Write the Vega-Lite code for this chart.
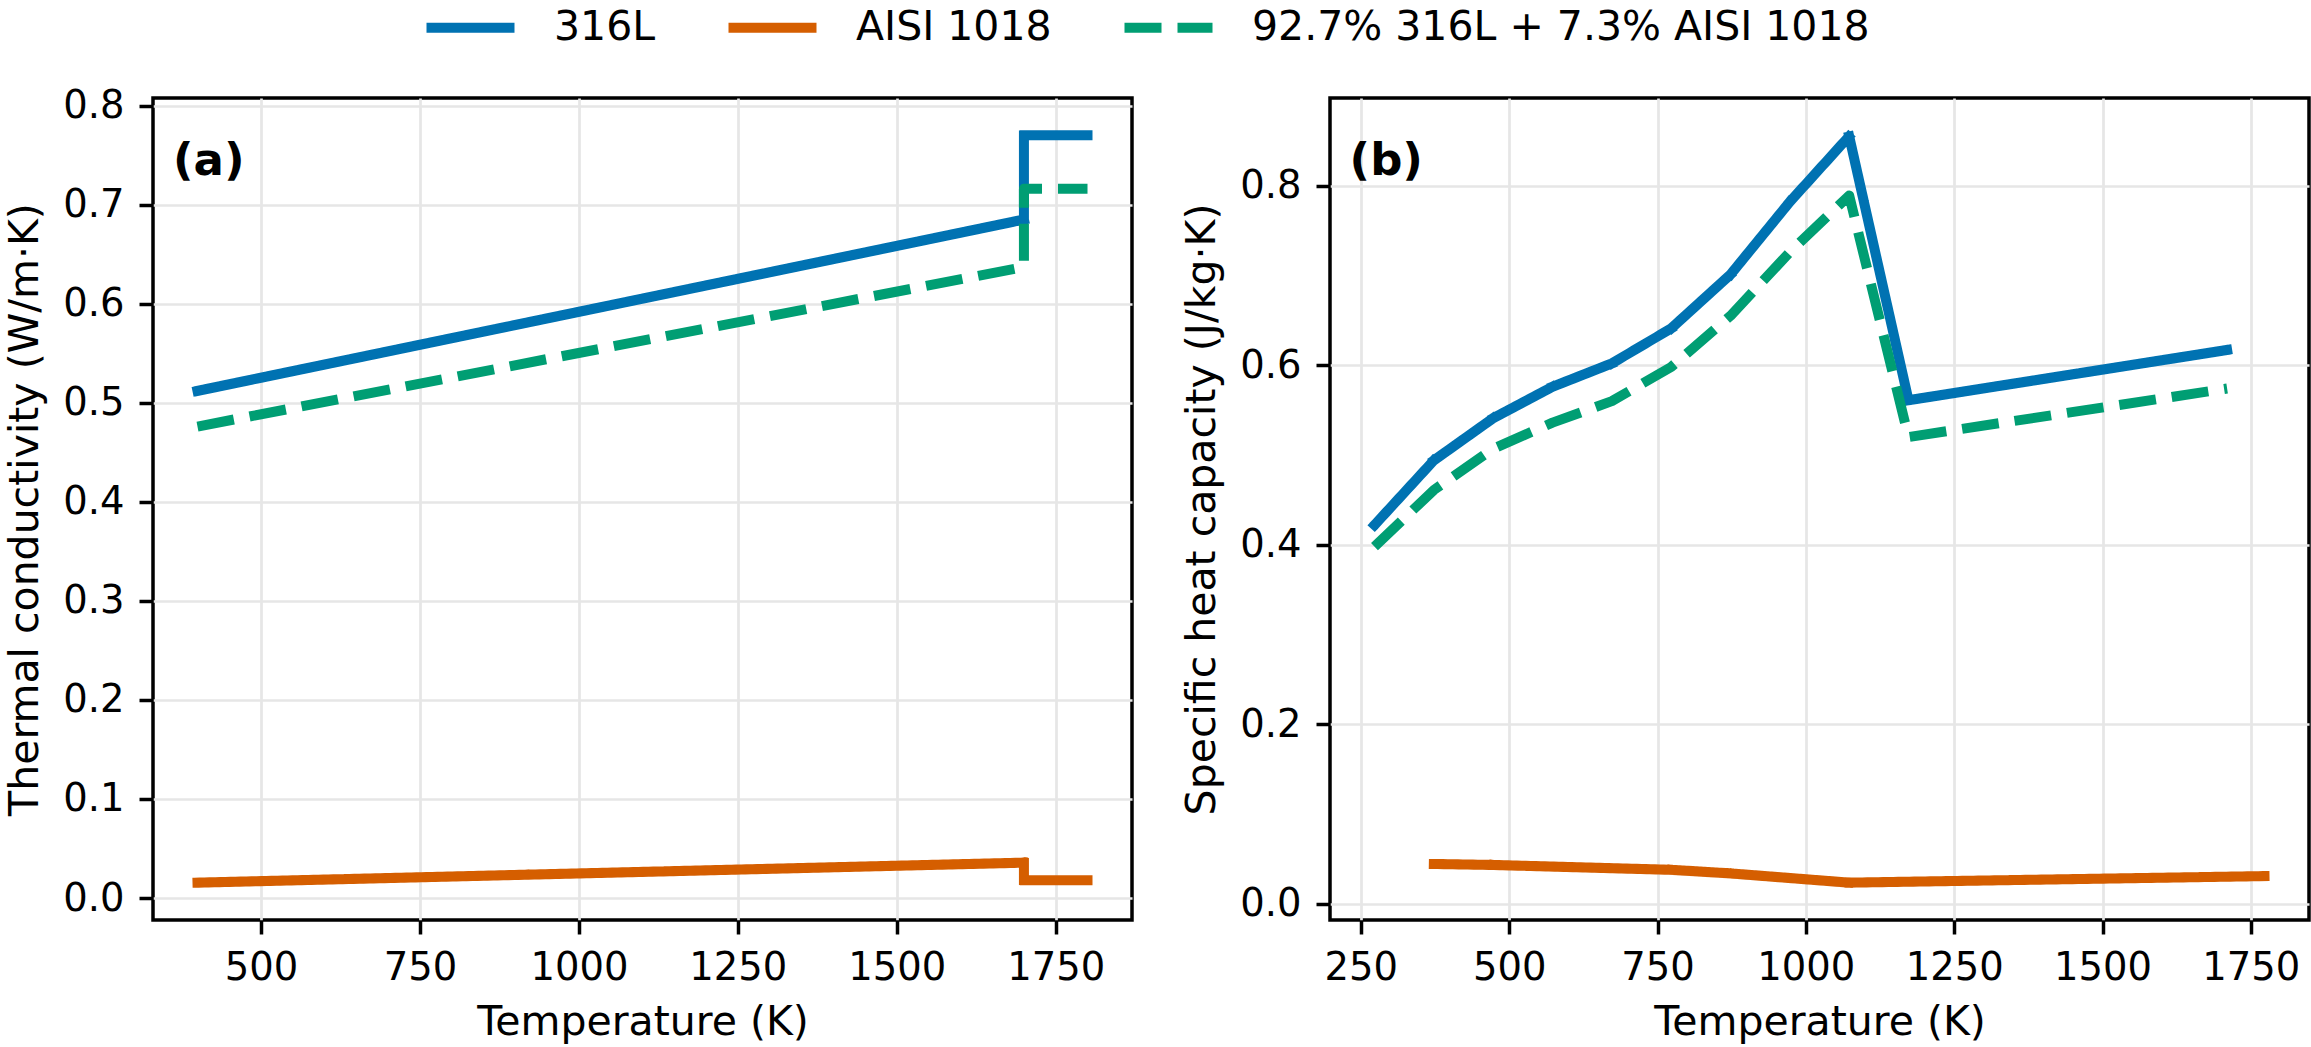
{
  "$schema": "https://vega.github.io/schema/vega-lite/v6.json",
  "padding": {"left": 3, "top": 0, "right": 0, "bottom": 0},
  "background": "white",
  "datasets": {
    "conductivity": [
      {"material": "316L", "T": 400, "k": 0.512, "i": 0},
      {"material": "316L", "T": 1700, "k": 0.685, "i": 1},
      {"material": "316L", "T": 1700, "k": 0.770, "i": 2},
      {"material": "316L", "T": 1800, "k": 0.770, "i": 3},
      {"material": "AISI 1018", "T": 400, "k": 0.0155, "i": 0},
      {"material": "AISI 1018", "T": 1700, "k": 0.0357, "i": 1},
      {"material": "AISI 1018", "T": 1700, "k": 0.018, "i": 2},
      {"material": "AISI 1018", "T": 1800, "k": 0.018, "i": 3},
      {"material": "92.7% 316L + 7.3% AISI 1018", "T": 400, "k": 0.476, "i": 0},
      {"material": "92.7% 316L + 7.3% AISI 1018", "T": 1700, "k": 0.637, "i": 1},
      {"material": "92.7% 316L + 7.3% AISI 1018", "T": 1700, "k": 0.716, "i": 2},
      {"material": "92.7% 316L + 7.3% AISI 1018", "T": 1800, "k": 0.716, "i": 3}
    ],
    "heatCapacity": [
      {"material": "316L", "T": 273, "cp": 0.422, "i": 0},
      {"material": "316L", "T": 373, "cp": 0.494, "i": 1},
      {"material": "316L", "T": 473, "cp": 0.541, "i": 2},
      {"material": "316L", "T": 573, "cp": 0.576, "i": 3},
      {"material": "316L", "T": 673, "cp": 0.602, "i": 4},
      {"material": "316L", "T": 773, "cp": 0.641, "i": 5},
      {"material": "316L", "T": 873, "cp": 0.701, "i": 6},
      {"material": "316L", "T": 973, "cp": 0.782, "i": 7},
      {"material": "316L", "T": 1073, "cp": 0.855, "i": 8},
      {"material": "316L", "T": 1173, "cp": 0.561, "i": 9},
      {"material": "316L", "T": 1710, "cp": 0.617, "i": 10},
      {"material": "AISI 1018", "T": 373, "cp": 0.0445, "i": 0},
      {"material": "AISI 1018", "T": 473, "cp": 0.0434, "i": 1},
      {"material": "AISI 1018", "T": 773, "cp": 0.038, "i": 2},
      {"material": "AISI 1018", "T": 873, "cp": 0.034, "i": 3},
      {"material": "AISI 1018", "T": 1073, "cp": 0.0237, "i": 4},
      {"material": "AISI 1018", "T": 1773, "cp": 0.031, "i": 5},
      {"material": "92.7% 316L + 7.3% AISI 1018", "T": 273, "cp": 0.398, "i": 0},
      {"material": "92.7% 316L + 7.3% AISI 1018", "T": 373, "cp": 0.461, "i": 1},
      {"material": "92.7% 316L + 7.3% AISI 1018", "T": 473, "cp": 0.507, "i": 2},
      {"material": "92.7% 316L + 7.3% AISI 1018", "T": 573, "cp": 0.536, "i": 3},
      {"material": "92.7% 316L + 7.3% AISI 1018", "T": 673, "cp": 0.560, "i": 4},
      {"material": "92.7% 316L + 7.3% AISI 1018", "T": 773, "cp": 0.598, "i": 5},
      {"material": "92.7% 316L + 7.3% AISI 1018", "T": 873, "cp": 0.655, "i": 6},
      {"material": "92.7% 316L + 7.3% AISI 1018", "T": 973, "cp": 0.726, "i": 7},
      {"material": "92.7% 316L + 7.3% AISI 1018", "T": 1073, "cp": 0.789, "i": 8},
      {"material": "92.7% 316L + 7.3% AISI 1018", "T": 1173, "cp": 0.520, "i": 9},
      {"material": "92.7% 316L + 7.3% AISI 1018", "T": 1710, "cp": 0.574, "i": 10}
    ]
  },
  "spacing": 46,
  "hconcat": [
    {
      "width": 979,
      "height": 822,
      "layer": [
        {
          "data": {"name": "conductivity"},
          "transform": [{"filter": "datum.material !== '92.7% 316L + 7.3% AISI 1018'"}],
          "mark": {"type": "line", "strokeWidth": 10, "strokeJoin": "round", "strokeCap": "square", "clip": true},
          "encoding": {
            "x": {"field": "T", "type": "quantitative", "title": "Temperature (K)",
                  "scale": {"domain": [330, 1870], "nice": false, "zero": false},
                  "axis": {"values": [500, 750, 1000, 1250, 1500, 1750], "format": "d"}},
            "y": {"field": "k", "type": "quantitative", "title": "Thermal conductivity (W/m·K)",
                  "scale": {"domain": [-0.0222, 0.8077], "nice": false, "zero": false},
                  "axis": {"values": [0, 0.1, 0.2, 0.3, 0.4, 0.5, 0.6, 0.7, 0.8], "format": ".1f"}},
            "color": {"field": "material", "type": "nominal",
                      "scale": {"domain": ["316L", "AISI 1018", "92.7% 316L + 7.3% AISI 1018"], "range": ["#0072B2", "#D55E00", "#009E73"]},
                      "legend": {"title": null}},
            "strokeDash": {"field": "material", "type": "nominal",
                           "scale": {"domain": ["316L", "AISI 1018", "92.7% 316L + 7.3% AISI 1018"], "range": [[1, 0], [1, 0], [37, 16]]},
                           "legend": {"title": null}},
            "order": {"field": "i", "type": "quantitative"}
          }
        },
        {
          "data": {"name": "conductivity"},
          "transform": [{"filter": "datum.material === '92.7% 316L + 7.3% AISI 1018'"}],
          "mark": {"type": "line", "strokeWidth": 10, "strokeJoin": "round", "strokeCap": "butt", "clip": true},
          "encoding": {
            "x": {"field": "T", "type": "quantitative"},
            "y": {"field": "k", "type": "quantitative"},
            "color": {"field": "material", "type": "nominal", "legend": {"title": null}},
            "strokeDash": {"field": "material", "type": "nominal", "legend": {"title": null}},
            "order": {"field": "i", "type": "quantitative"}
          }
        },
        {
          "data": {"name": "conductivity"},
          "transform": [{"filter": "datum.i === 0 && datum.material === '316L'"}],
          "mark": {"type": "text", "text": "(a)", "align": "left", "baseline": "top", "fontSize": 45, "fontWeight": "bold", "fill": "black"},
          "encoding": {
            "x": {"datum": 361.5, "type": "quantitative"},
            "y": {"datum": 0.766, "type": "quantitative"}
          }
        }
      ]
    },
    {
      "width": 979,
      "height": 822,
      "layer": [
        {
          "data": {"name": "heatCapacity"},
          "transform": [{"filter": "datum.material !== '92.7% 316L + 7.3% AISI 1018'"}],
          "mark": {"type": "line", "strokeWidth": 10, "strokeJoin": "round", "strokeCap": "square", "clip": true},
          "encoding": {
            "x": {"field": "T", "type": "quantitative", "title": "Temperature (K)",
                  "scale": {"domain": [198, 1848], "nice": false, "zero": false},
                  "axis": {"values": [250, 500, 750, 1000, 1250, 1500, 1750], "format": "d"}},
            "y": {"field": "cp", "type": "quantitative", "title": "Specific heat capacity (J/kg·K)",
                  "scale": {"domain": [-0.0179, 0.8976], "nice": false, "zero": false},
                  "axis": {"values": [0, 0.2, 0.4, 0.6, 0.8], "format": ".1f"}},
            "color": {"field": "material", "type": "nominal",
                      "scale": {"domain": ["316L", "AISI 1018", "92.7% 316L + 7.3% AISI 1018"], "range": ["#0072B2", "#D55E00", "#009E73"]},
                      "legend": {"title": null}},
            "strokeDash": {"field": "material", "type": "nominal",
                           "scale": {"domain": ["316L", "AISI 1018", "92.7% 316L + 7.3% AISI 1018"], "range": [[1, 0], [1, 0], [37, 16]]},
                           "legend": {"title": null}},
            "order": {"field": "i", "type": "quantitative"}
          }
        },
        {
          "data": {"name": "heatCapacity"},
          "transform": [{"filter": "datum.material === '92.7% 316L + 7.3% AISI 1018'"}],
          "mark": {"type": "line", "strokeWidth": 10, "strokeJoin": "round", "strokeCap": "butt", "clip": true},
          "encoding": {
            "x": {"field": "T", "type": "quantitative"},
            "y": {"field": "cp", "type": "quantitative"},
            "color": {"field": "material", "type": "nominal", "legend": {"title": null}},
            "strokeDash": {"field": "material", "type": "nominal", "legend": {"title": null}},
            "order": {"field": "i", "type": "quantitative"}
          }
        },
        {
          "data": {"name": "heatCapacity"},
          "transform": [{"filter": "datum.i === 0 && datum.material === '316L'"}],
          "mark": {"type": "text", "text": "(b)", "align": "left", "baseline": "top", "fontSize": 45, "fontWeight": "bold", "fill": "black"},
          "encoding": {
            "x": {"datum": 231, "type": "quantitative"},
            "y": {"datum": 0.8524, "type": "quantitative"}
          }
        }
      ]
    }
  ],
  "resolve": {"scale": {"color": "shared", "strokeDash": "shared"}, "legend": {"color": "shared", "strokeDash": "shared"}},
  "config": {
    "font": "DejaVu Sans",
    "view": {"stroke": "black", "strokeWidth": 3.5},
    "axis": {
      "domain": false,
      "grid": true,
      "gridColor": "#e6e6e6",
      "gridWidth": 2.7,
      "tickColor": "black",
      "tickWidth": 3.5,
      "tickSize": 14,
      "labelFont": "DejaVu Sans",
      "labelFontSize": 38.5,
      "labelColor": "black",
      "labelPadding": 15,
      "labelOverlap": false,
      "labelFlush": false,
      "titleFont": "DejaVu Sans",
      "titleFontSize": 41,
      "titleFontWeight": "normal",
      "titleColor": "black",
      "titlePadding": 16
    },
    "legend": {
      "orient": "none",
      "legendX": 290,
      "legendY": -98,
      "direction": "horizontal",
      "columns": 3,
      "padding": 7,
      "symbolType": "M-4,0H4",
      "symbolSize": 484,
      "symbolStrokeWidth": 10,
      "labelFont": "DejaVu Sans",
      "labelFontSize": 41,
      "labelColor": "black",
      "labelOffset": 63,
      "columnPadding": 52,
      "labelLimit": 1000
    }
  }
}
